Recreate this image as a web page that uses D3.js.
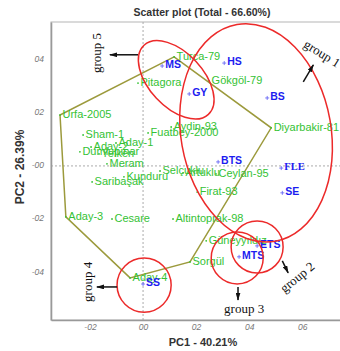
<!DOCTYPE html>
<html><head><meta charset="utf-8">
<script src="https://cdn.jsdelivr.net/npm/d3@7/dist/d3.min.js"></script>
<style>body{margin:0;background:#fff} svg{display:block}</style>
</head><body>
<svg id="chart" width="340" height="351"></svg>
<script>
// cultivars (green labels)
const cultivars = ["Turca-79","Pitagora","Gökgöl-79","Urfa-2005","Aydin-93","Fuatbey-2000","Sham-1","Aday-1","Dumlupınar","Aday-2","Yelken","Meram","Kunduru","Selçuklu","Artuklu","Ceylan-95","Saribaşak","Firat-93","Diyarbakir-81","Aday-3","Cesare","Altintoprak-98","Güneyyıldız","Sorgül","Aday-4"];
const cultivarPC1 = [0.117,-0.019,0.249,-0.313,0.106,0.019,-0.226,-0.102,-0.238,-0.196,-0.166,-0.136,-0.072,0.064,0.151,0.275,-0.192,0.204,0.483,-0.291,-0.117,0.113,0.238,0.177,-0.049];
const cultivarPC2 = [0.409,0.311,0.319,0.191,0.146,0.124,0.116,0.086,0.053,0.071,0.045,0.008,-0.041,-0.019,-0.026,-0.030,-0.060,-0.098,0.143,-0.191,-0.199,-0.199,-0.281,-0.360,-0.420];

// wheat types (blue labels)
const types = ["MS","HS","GY","BS","BTS","FLE","SE","ETS","MTS","SS"];
const typePC1 = [0.072,0.306,0.174,0.468,0.283,0.521,0.525,0.430,0.362,0.000];
const typePC2 = [0.375,0.386,0.270,0.255,0.015,-0.008,-0.101,-0.300,-0.341,-0.443];

// outline around the cultivars
const hullOrder = ["Turca-79","Urfa-2005","Aday-3","Aday-4","Sorgül","Diyarbakir-81"];

// group ellipses (centre, semi axes in PC units, tilt in degrees)
const groupNames = ["group 1","group 5","group 2","group 3","group 4"];
const groupPC1 = [0.426,0.125,0.430,0.355,0.004];
const groupPC2 = [0.124,0.323,-0.304,-0.345,-0.447];
const groupA = [0.415,0.178,0.098,0.098,0.102];
const groupB = [0.283,0.102,0.098,0.098,0.102];
const groupTilt = [80,47,0,0,0];

// group labels and arrows
const labelPC1 = [0.611,-0.174,0.581,0.381,-0.211];
const labelPC2 = [0.462,0.424,-0.417,-0.533,-0.435];
const labelRot = [32,-90,-39,0,-90];
const arrowFrom = [[0.604,0.315],[-0.019,0.417],[0.525,-0.356],[0.358,-0.454],[-0.098,-0.454]];
const arrowTo = [[0.642,0.379],[-0.125,0.417],[0.547,-0.401],[0.358,-0.503],[-0.174,-0.454]];

const xTicks = [-0.2,0,0.2,0.4,0.6];
const xTickLabels = ["-02","00","02","04","06"];
const yTicks = [0.4,0.2,0,-0.2,-0.4];
const yTickLabels = ["04","02","-00","-02","-04"];

const svg = d3.select("#chart");
const plotL = 51, plotR = 342, plotT = 22, plotB = 320;

const x = d3.scaleLinear().domain([-0.347, 0.75]).range([plotL, plotR]);
const y = d3.scaleLinear().domain([-0.578, 0.54]).range([plotB, plotT]);

const green = "#34c234", blue = "#1c1cf0", red = "#ec2a2a";

svg.append("text").attr("x", 202).attr("y", 16).attr("text-anchor", "middle")
  .attr("font-family", "Liberation Sans, Arial, sans-serif").attr("font-weight", "bold")
  .attr("font-size", 10.5).attr("fill", "#333").text("Scatter plot (Total - 66.60%)");

// frame
svg.append("rect").attr("x", plotL).attr("y", plotT).attr("width", plotR - plotL).attr("height", plotB - plotT)
  .attr("fill", "none").attr("stroke", "#b5b5b5").attr("stroke-width", 1);

// reference lines at zero
svg.append("line").attr("x1", x(0)).attr("x2", x(0)).attr("y1", plotT).attr("y2", plotB)
  .attr("stroke", "#aaa").attr("stroke-dasharray", "2,2");
svg.append("line").attr("x1", plotL).attr("x2", plotR).attr("y1", y(0)).attr("y2", y(0))
  .attr("stroke", "#aaa").attr("stroke-dasharray", "2,2");

// axes
const xAxis = svg.append("g").attr("transform", "translate(0," + plotB + ")")
  .call(d3.axisBottom(x).tickValues(xTicks).tickFormat((d, i) => xTickLabels[i]).tickSize(0).tickPadding(4));
const yAxis = svg.append("g").attr("transform", "translate(" + plotL + ",0)")
  .call(d3.axisLeft(y).tickValues(yTicks).tickFormat((d, i) => yTickLabels[i]).tickSize(0).tickPadding(7));
[xAxis, yAxis].forEach(g => {
  g.select(".domain").attr("stroke", "#999").attr("stroke-width", 1.6);
  g.selectAll("text").attr("fill", "#777").attr("font-style", "italic")
    .attr("font-size", 8.5).attr("font-family", "Liberation Sans, Arial, sans-serif");
});
yAxis.selectAll("text").attr("dy", "0.2em");

svg.append("text").attr("x", 203).attr("y", 346).attr("text-anchor", "middle")
  .attr("font-family", "Liberation Sans, Arial, sans-serif").attr("font-weight", "bold")
  .attr("font-size", 11).attr("fill", "#333").text("PC1 - 40.21%");
svg.append("text").attr("transform", "translate(24,167) rotate(-90)").attr("text-anchor", "middle")
  .attr("font-family", "Liberation Sans, Arial, sans-serif").attr("font-weight", "bold")
  .attr("font-size", 12).attr("fill", "#333").text("PC2 - 26.39%");

// outline polygon
const hullPts = hullOrder.map(n => { const i = cultivars.indexOf(n); return [x(cultivarPC1[i]), y(cultivarPC2[i])]; });
svg.append("path").attr("d", d3.line()(hullPts) + "Z")
  .attr("fill", "none").attr("stroke", "#9c9a3c").attr("stroke-width", 1.5);

// cultivar points
const cg = svg.append("g").attr("font-family", "Liberation Sans, Arial, sans-serif").attr("font-size", 11);
cultivars.forEach((n, i) => {
  cg.append("circle").attr("cx", x(cultivarPC1[i])).attr("cy", y(cultivarPC2[i])).attr("r", 0.9).attr("fill", green);
  cg.append("text").attr("x", x(cultivarPC1[i]) + 2.5).attr("y", y(cultivarPC2[i])).attr("dy", "0.3em")
    .attr("fill", green).text(n);
});

// type points
const tg = svg.append("g").attr("font-family", "Liberation Sans, Arial, sans-serif").attr("font-size", 10.5).attr("font-weight", "bold");
types.forEach((n, i) => {
  const px = x(typePC1[i]), py = y(typePC2[i]);
  tg.append("path").attr("d", `M${px - 2},${py}H${px + 2}M${px},${py - 2}V${py + 2}`)
    .attr("stroke", "#5a5af5").attr("stroke-width", 0.8);
  tg.append("text").attr("x", px + 3).attr("y", py).attr("dy", "0.2em").attr("fill", blue)
    .attr("font-family", n === "FLE" ? "Liberation Serif, Times New Roman, serif" : null)
    .text(n);
});

// group ellipses
const kx = x(1) - x(0);
groupNames.forEach((n, i) => {
  svg.append("ellipse")
    .attr("transform", `translate(${x(groupPC1[i])},${y(groupPC2[i])}) rotate(${groupTilt[i]})`)
    .attr("rx", groupA[i] * kx).attr("ry", groupB[i] * kx)
    .attr("fill", "none").attr("stroke", red).attr("stroke-width", 1.5);
});

// arrows + labels
svg.append("defs").append("marker").attr("id", "head").attr("viewBox", "0 0 10 6")
  .attr("refX", 9).attr("refY", 3).attr("markerWidth", 8).attr("markerHeight", 5)
  .attr("markerUnits", "userSpaceOnUse").attr("orient", "auto")
  .append("path").attr("d", "M0,0L10,3L0,6Z").attr("fill", "#111");
groupNames.forEach((n, i) => {
  svg.append("line").attr("x1", x(arrowFrom[i][0])).attr("y1", y(arrowFrom[i][1]))
    .attr("x2", x(arrowTo[i][0])).attr("y2", y(arrowTo[i][1]))
    .attr("stroke", "#111").attr("stroke-width", 1.5).attr("marker-end", "url(#head)");
  svg.append("text")
    .attr("transform", `translate(${x(labelPC1[i])},${y(labelPC2[i])}) rotate(${labelRot[i]})`)
    .attr("text-anchor", i === 0 ? "start" : "middle").attr("dominant-baseline", "central")
    .attr("font-family", "Liberation Serif, Times New Roman, serif").attr("font-size", 13)
    .attr("fill", "#111").text(n);
});
</script>
</body></html>
